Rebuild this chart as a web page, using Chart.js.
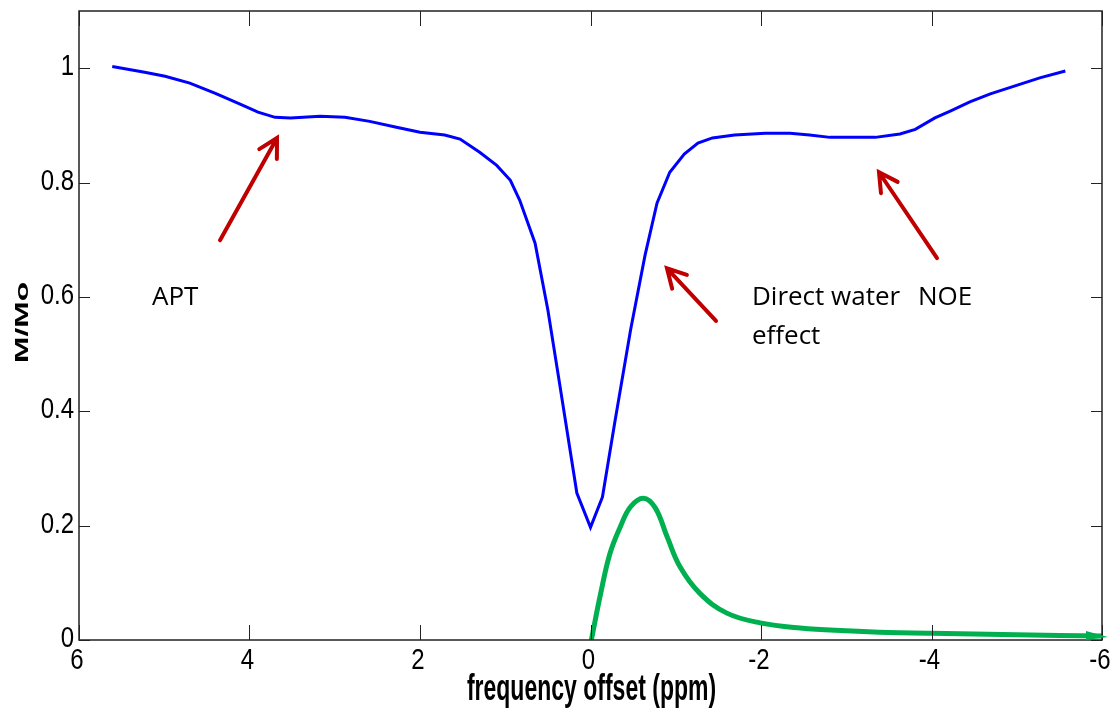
<!DOCTYPE html>
<html>
<head>
<meta charset="utf-8">
<script src="https://cdn.jsdelivr.net/npm/chart.js@4.4.1/dist/chart.umd.min.js"></script>
<style>
  html, body { margin: 0; padding: 0; background: #fff; }
  #wrap { width: 1118px; height: 717px; position: relative; }
</style>
</head>
<body>
<div id="wrap"><canvas id="grafico" width="1118" height="717"></canvas></div>
<script>
// espectro Z (azul) e curva verde
const zX = [5.61, 5.23, 4.99, 4.70, 4.40, 4.11, 3.90, 3.70, 3.52, 3.17, 2.88, 2.59, 2.29, 2.00, 1.71, 1.53, 1.30, 1.10, 0.94, 0.83, 0.65, 0.50, 0.36, 0.16, 0.00,
            -0.14, -0.29, -0.47, -0.64, -0.78, -0.93, -1.10, -1.26, -1.43, -1.69, -2.05, -2.34, -2.57, -2.81, -3.10, -3.34, -3.63, -3.81, -4.04, -4.22, -4.45, -4.69, -4.98, -5.27, -5.57];
const zY = [1.003, 0.993, 0.986, 0.974, 0.956, 0.937, 0.923, 0.914, 0.913, 0.916, 0.914, 0.907, 0.897, 0.888, 0.883, 0.876, 0.853, 0.830, 0.804, 0.769, 0.694, 0.577, 0.446, 0.257, 0.197,
            0.250, 0.385, 0.542, 0.673, 0.764, 0.818, 0.850, 0.869, 0.878, 0.883, 0.886, 0.886, 0.883, 0.879, 0.879, 0.879, 0.885, 0.893, 0.913, 0.925, 0.941, 0.955, 0.969, 0.983, 0.995];

const verdeX = [-0.01, -0.12, -0.23, -0.35, -0.47, -0.62, -0.76, -0.90, -1.05, -1.28, -1.60, -1.99, -2.46, -3.00, -3.50, -4.00, -5.00, -6.00];
const verdeY = [0, 0.082, 0.152, 0.198, 0.233, 0.248, 0.231, 0.180, 0.128, 0.082, 0.047, 0.030, 0.021, 0.016, 0.013, 0.012, 0.009, 0.007];

const xTicks = [6, 4, 2, 0, -2, -4, -6];
const xTickLabels = ["6", "4", "2", "0", "-2", "-4", "-6"];
const yTicks = [0, 0.2, 0.4, 0.6, 0.8, 1];
const yTickLabels = ["0", "0.2", "0.4", "0.6", "0.8", "1"];

// setas vermelhas: [cauda x, cauda y, ponta x, ponta y] em ppm / M/Mo
const setas = [
  [4.346, 0.699, 3.677, 0.878],
  [-1.472, 0.558, -0.897, 0.650],
  [-4.065, 0.668, -3.384, 0.818]
];
const textos = [
  { t: "APT", x: 5.144, y: 0.598 },
  { t: "Direct water", x: -1.894, y: 0.598 },
  { t: "effect", x: -1.894, y: 0.531 },
  { t: "NOE", x: -3.842, y: 0.598 }
];

const fonteNum = "'Liberation Sans', Arial, sans-serif";

// texto esticado na vertical, como na figura original
function textoEsticado(ctx, txt, x, y, fonte, sy, align, base) {
  ctx.save();
  ctx.translate(x, y);
  ctx.scale(1, sy);
  ctx.font = fonte;
  ctx.textAlign = align;
  ctx.textBaseline = base;
  ctx.fillText(txt, 0, 0);
  ctx.restore();
}

const molduraPlugin = {
  id: "moldura",
  afterDraw(chart) {
    const { ctx, chartArea: a, scales } = chart;
    ctx.save();
    ctx.strokeStyle = "#222";
    ctx.lineWidth = 1.5;
    ctx.strokeRect(a.left, a.top, a.right - a.left, a.bottom - a.top);
    ctx.lineWidth = 1;
    ctx.beginPath();
    xTicks.forEach((v) => {
      const px = Math.round(scales.x.getPixelForValue(v)) + 0.5;
      ctx.moveTo(px, a.bottom); ctx.lineTo(px, a.bottom - 15);
      ctx.moveTo(px, a.top); ctx.lineTo(px, a.top + 15);
    });
    yTicks.forEach((v) => {
      const py = Math.round(scales.y.getPixelForValue(v)) + 0.5;
      ctx.moveTo(a.left, py); ctx.lineTo(a.left + 11, py);
      ctx.moveTo(a.right, py); ctx.lineTo(a.right - 11, py);
    });
    ctx.stroke();

    // rótulos dos eixos
    ctx.fillStyle = "#000";
    xTicks.forEach((v, i) => {
      textoEsticado(ctx, xTickLabels[i], scales.x.getPixelForValue(v) - 2, a.bottom + 29, "24px " + fonteNum, 1.2, "center", "alphabetic");
    });
    yTicks.forEach((v, i) => {
      textoEsticado(ctx, yTickLabels[i], a.left - 5, scales.y.getPixelForValue(v) + 7, "24px " + fonteNum, 1.2, "right", "alphabetic");
    });
    textoEsticado(ctx, "frequency offset (ppm)", (a.left + a.right) / 2 + 1, 700, "bold 23px " + fonteNum, 1.6, "center", "alphabetic");
    ctx.save();
    ctx.translate(28, (a.top + a.bottom) / 2 - 3);
    ctx.rotate(-Math.PI / 2);
    ctx.scale(1.67, 1);
    ctx.font = "bold 19px " + fonteNum;
    ctx.textAlign = "center";
    ctx.textBaseline = "alphabetic";
    ctx.fillText("M/Mo", 0, 0);
    ctx.restore();

    // setas
    ctx.strokeStyle = "#c00000";
    ctx.lineWidth = 4;
    ctx.lineCap = "round";
    setas.forEach(([x0, y0, x1, y1]) => {
      const ax = scales.x.getPixelForValue(x0), ay = scales.y.getPixelForValue(y0);
      const bx = scales.x.getPixelForValue(x1), by = scales.y.getPixelForValue(y1);
      const ang = Math.atan2(by - ay, bx - ax);
      const L = 21, abre = 0.5;
      ctx.beginPath();
      ctx.moveTo(ax, ay); ctx.lineTo(bx, by);
      ctx.moveTo(bx - L * Math.cos(ang - abre), by - L * Math.sin(ang - abre));
      ctx.lineTo(bx, by);
      ctx.lineTo(bx - L * Math.cos(ang + abre), by - L * Math.sin(ang + abre));
      ctx.stroke();
    });

    // ponta da curva verde
    const n = verdeX.length - 1;
    const gx = scales.x.getPixelForValue(verdeX[n]), gy = scales.y.getPixelForValue(verdeY[n]);
    ctx.fillStyle = "#00b050";
    ctx.beginPath();
    ctx.moveTo(gx + 6, gy + 1);
    ctx.lineTo(gx - 16, gy - 5);
    ctx.lineTo(gx - 16, gy + 4);
    ctx.closePath();
    ctx.fill();

    // textos
    ctx.fillStyle = "#000";
    ctx.font = "26px 'Open Sans', Lato, sans-serif";
    ctx.textAlign = "left";
    ctx.textBaseline = "middle";
    textos.forEach((o) => {
      ctx.fillText(o.t, scales.x.getPixelForValue(o.x), scales.y.getPixelForValue(o.y));
    });
    ctx.restore();
  }
};

const ctx = document.getElementById("grafico").getContext("2d");
new Chart(ctx, {
  type: "line",
  data: {
    datasets: [
      {
        data: zX.map((x, i) => ({ x, y: zY[i] })),
        borderColor: "#0000ff",
        borderWidth: 3,
        pointRadius: 0,
        tension: 0,
        fill: false
      },
      {
        data: verdeX.map((x, i) => ({ x, y: verdeY[i] })),
        borderColor: "#00b050",
        borderWidth: 5,
        pointRadius: 0,
        tension: 0.4,
        fill: false
      }
    ]
  },
  options: {
    responsive: false,
    animation: false,
    layout: { padding: { top: 11, right: 16, left: 0, bottom: 0 } },
    plugins: { legend: { display: false }, tooltip: { enabled: false } },
    scales: {
      x: {
        type: "linear",
        reverse: true,
        min: -6,
        max: 6,
        afterBuildTicks: (s) => { s.ticks = xTicks.map((v) => ({ value: v })); },
        afterFit: (s) => { s.height = 77; s.paddingLeft = 0; s.paddingRight = 0; },
        grid: { display: false, drawTicks: false },
        border: { display: false },
        ticks: { display: false }
      },
      y: {
        min: 0,
        max: 1.1,
        afterBuildTicks: (s) => { s.ticks = yTicks.map((v) => ({ value: v })); },
        afterFit: (s) => { s.width = 79; s.paddingTop = 0; s.paddingBottom = 0; },
        grid: { display: false, drawTicks: false },
        border: { display: false },
        ticks: { display: false }
      }
    }
  },
  plugins: [molduraPlugin]
});
</script>
</body>
</html>
